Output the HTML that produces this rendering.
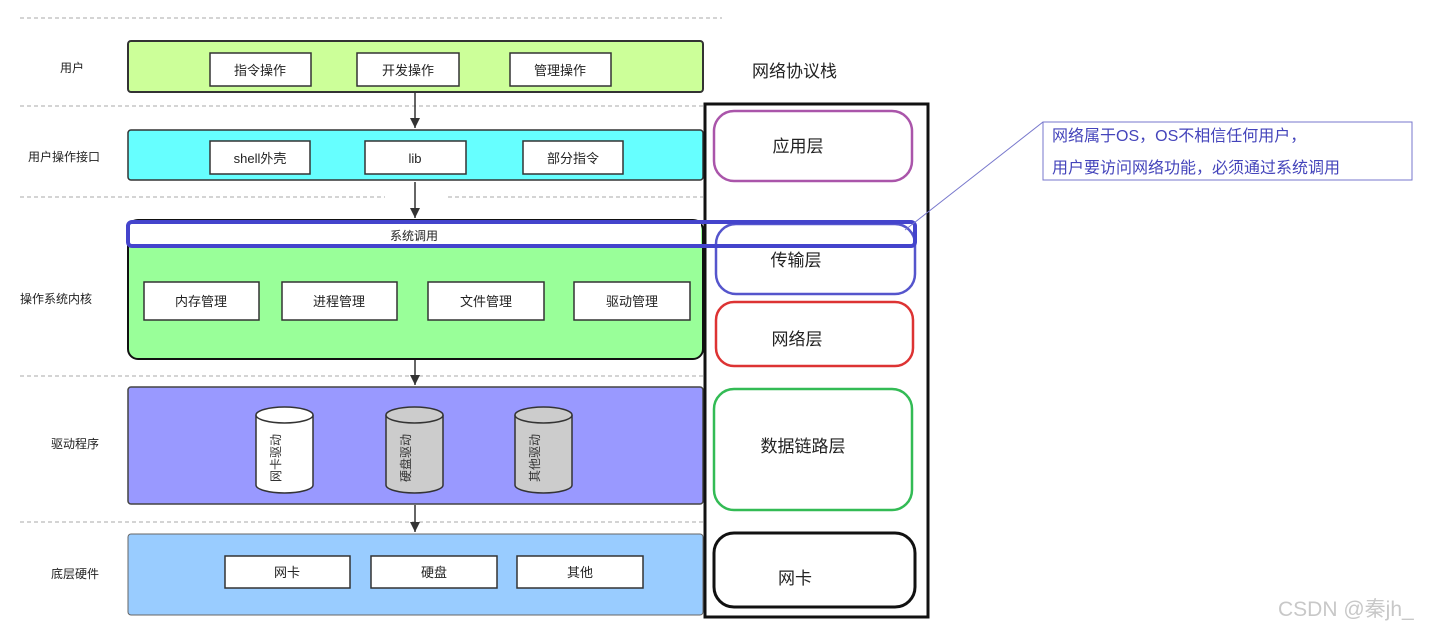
<!DOCTYPE html>
<html><head><meta charset="utf-8"><style>
html,body{margin:0;padding:0;background:#fff;}
svg{display:block;font-family:"Liberation Sans","Noto Sans CJK SC",sans-serif;}
</style></head><body>
<svg width="1450" height="634" viewBox="0 0 1450 634" xmlns="http://www.w3.org/2000/svg">
<defs><marker id="ar" markerWidth="10" markerHeight="10" refX="10" refY="5" orient="auto" markerUnits="userSpaceOnUse"><path d="M0,0 L10,5 L0,10 z" fill="#333"/></marker></defs>
<g stroke="#aaa" stroke-dasharray="4,3" stroke-width="1">
<line x1="20" y1="18" x2="722" y2="18"/>
<line x1="20" y1="106" x2="703" y2="106"/>
<line x1="20" y1="197" x2="385" y2="197"/><line x1="448" y1="197" x2="703" y2="197"/>
<line x1="20" y1="376" x2="703" y2="376"/>
<line x1="20" y1="522" x2="703" y2="522"/>
</g>
<g font-size="12" fill="#222">
<text x="60" y="72">用户</text>
<text x="28" y="161">用户操作接口</text>
<text x="20" y="303">操作系统内核</text>
<text x="51" y="448">驱动程序</text>
<text x="51" y="578">底层硬件</text>
</g>
<rect x="128" y="41" width="575" height="51" rx="3" fill="#ccff99" stroke="#333" stroke-width="2"/>
<rect x="128" y="130" width="575" height="50" rx="3" fill="#66ffff" stroke="#333" stroke-width="1.5"/>
<rect x="128" y="220" width="575" height="139" rx="10" fill="#99ff99" stroke="#111" stroke-width="2"/>
<rect x="130" y="222" width="571" height="25" fill="#fff"/>
<rect x="128" y="387" width="575" height="117" rx="3" fill="#9999ff" stroke="#444" stroke-width="1.5"/>
<rect x="128" y="534" width="575" height="81" rx="3" fill="#99ccff" stroke="#666" stroke-width="1"/>
<g fill="#fff" stroke="#333" stroke-width="1.5">
<rect x="210" y="53" width="101" height="33"/><rect x="357" y="53" width="102" height="33"/><rect x="510" y="53" width="101" height="33"/>
<rect x="210" y="141" width="100" height="33"/><rect x="365" y="141" width="101" height="33"/><rect x="523" y="141" width="100" height="33"/>
<rect x="144" y="282" width="115" height="38"/><rect x="282" y="282" width="115" height="38"/><rect x="428" y="282" width="116" height="38"/><rect x="574" y="282" width="116" height="38"/>
<rect x="225" y="556" width="125" height="32"/><rect x="371" y="556" width="126" height="32"/><rect x="517" y="556" width="126" height="32"/>
</g>
<g font-size="13" fill="#222" text-anchor="middle">
<text x="260" y="75">指令操作</text><text x="408" y="75">开发操作</text><text x="560" y="75">管理操作</text>
<text x="260" y="163">shell外壳</text><text x="415" y="163">lib</text><text x="573" y="163">部分指令</text>
<text x="414" y="240" font-size="12">系统调用</text>
<text x="201" y="306">内存管理</text><text x="339" y="306">进程管理</text><text x="486" y="306">文件管理</text><text x="632" y="306">驱动管理</text>
<text x="287" y="577">网卡</text><text x="434" y="577">硬盘</text><text x="580" y="577">其他</text>
</g>
<g stroke="#333" stroke-width="1.5">
<path d="M256,415 v70 a28.5,8 0 0 0 57,0 v-70" fill="#fff"/><ellipse cx="284.5" cy="415" rx="28.5" ry="8" fill="#fff"/>
<path d="M386,415 v70 a28.5,8 0 0 0 57,0 v-70" fill="#ccc"/><ellipse cx="414.5" cy="415" rx="28.5" ry="8" fill="#ccc"/>
<path d="M515,415 v70 a28.5,8 0 0 0 57,0 v-70" fill="#ccc"/><ellipse cx="543.5" cy="415" rx="28.5" ry="8" fill="#ccc"/>
</g>
<g font-size="12" fill="#333" text-anchor="middle">
<text transform="translate(280,458) rotate(-90)">网卡驱动</text>
<text transform="translate(410,458) rotate(-90)">硬盘驱动</text>
<text transform="translate(539,458) rotate(-90)">其他驱动</text>
</g>
<g stroke="#333" stroke-width="1.5" marker-end="url(#ar)">
<line x1="415" y1="92" x2="415" y2="128"/><line x1="415" y1="182" x2="415" y2="218"/>
<line x1="415" y1="360" x2="415" y2="385"/><line x1="415" y1="505" x2="415" y2="532"/>
</g>
<text x="752" y="77" font-size="17" fill="#222">网络协议栈</text>
<rect x="705" y="104" width="223" height="513" fill="none" stroke="#111" stroke-width="3"/>
<g fill="none" stroke-width="2.5">
<rect x="714" y="111" width="198" height="70" rx="20" stroke="#aa55aa"/>
<rect x="716" y="224" width="199" height="70" rx="20" stroke="#5555cc"/>
<rect x="716" y="302" width="197" height="64" rx="18" stroke="#dd3333"/>
<rect x="714" y="389" width="198" height="121" rx="20" stroke="#33bb55"/>
<rect x="714" y="533" width="201" height="74" rx="20" stroke="#111" stroke-width="3"/>
</g>
<g font-size="17" fill="#222" text-anchor="middle">
<text x="798" y="152">应用层</text><text x="796" y="266">传输层</text><text x="797" y="345">网络层</text>
<text x="803" y="452">数据链路层</text><text x="795" y="584">网卡</text>
</g>
<rect x="128" y="222" width="787" height="24" rx="4" fill="none" stroke="#4444cc" stroke-width="4"/>
<line x1="1043" y1="122" x2="905" y2="230" stroke="#7777cc" stroke-width="1"/>
<rect x="1043" y="122" width="369" height="58" fill="#fff" stroke="#7777cc" stroke-width="1"/>
<g font-size="16" fill="#4444bb">
<text x="1052" y="141">网络属于OS，OS不相信任何用户，</text>
<text x="1052" y="173">用户要访问网络功能，必须通过系统调用</text>
</g>
<text x="1278" y="616" font-size="21" fill="#c8c8c8">CSDN @秦jh_</text>
</svg>
</body></html>
